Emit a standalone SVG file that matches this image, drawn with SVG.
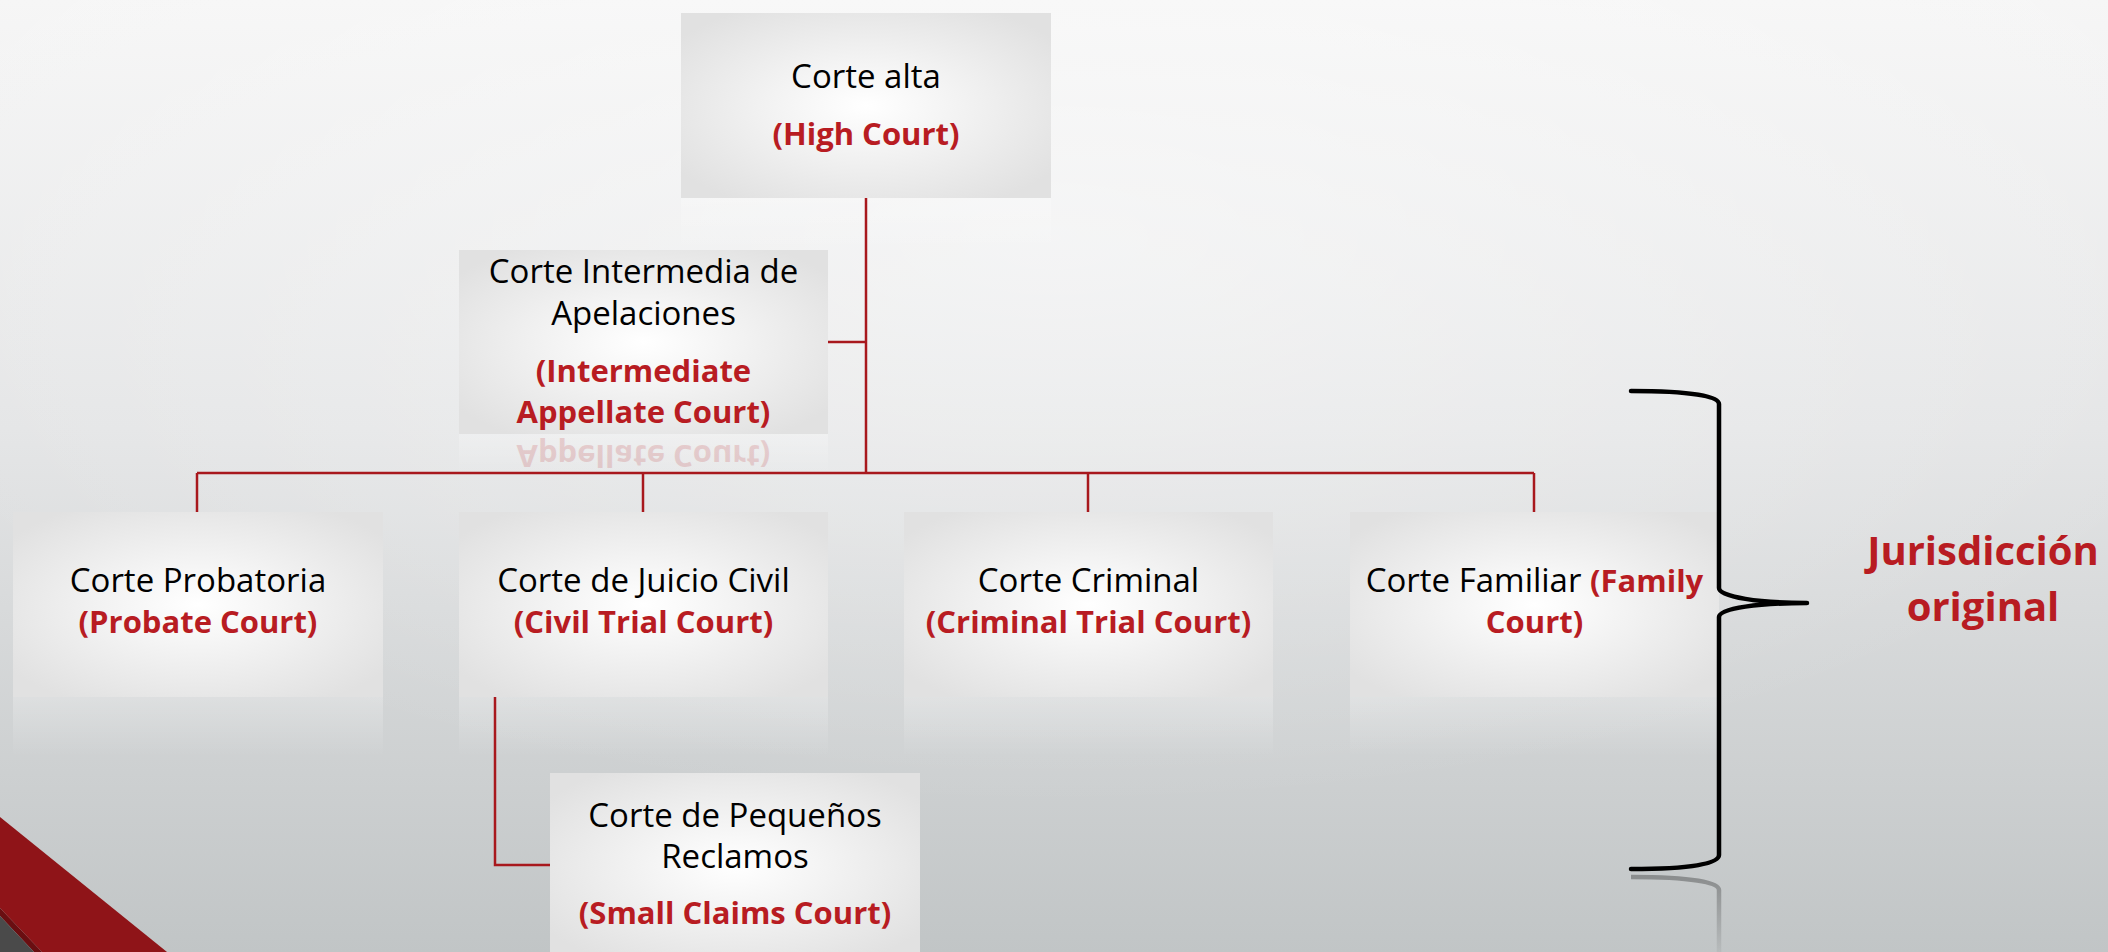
<svg xmlns="http://www.w3.org/2000/svg" width="2108" height="952" viewBox="0 0 2108 952">
<defs>
<linearGradient id="bg" x1="0" y1="0" x2="0" y2="1">
<stop offset="0" stop-color="#f6f6f6"/>
<stop offset="0.45" stop-color="#e4e5e6"/>
<stop offset="1" stop-color="#c1c5c6"/>
</linearGradient>
<radialGradient id="bgglow" cx="0.5" cy="0.25" r="0.6">
<stop offset="0" stop-color="#ffffff" stop-opacity="0.45"/>
<stop offset="1" stop-color="#ffffff" stop-opacity="0"/>
</radialGradient>
<radialGradient id="box" cx="0.5" cy="0.5" r="0.62">
<stop offset="0" stop-color="#ffffff"/>
<stop offset="1" stop-color="#e1e1e1"/>
</radialGradient>
<linearGradient id="refl" x1="0" y1="0" x2="0" y2="1">
<stop offset="0" stop-color="#ffffff" stop-opacity="0.25"/>
<stop offset="1" stop-color="#ffffff" stop-opacity="0"/>
</linearGradient>
<linearGradient id="brefl" x1="0" y1="0" x2="0" y2="1">
<stop offset="0" stop-color="#000000" stop-opacity="0.3"/>
<stop offset="1" stop-color="#000000" stop-opacity="0.05"/>
</linearGradient>
</defs>
<style>
.box{fill:url(#box);}
.refl{fill:url(#refl);}
.t{font-family:"Open Sans","Liberation Sans",sans-serif;font-size:33px;fill:#000;text-anchor:middle;}
.r{font-family:"Open Sans","Liberation Sans",sans-serif;font-weight:bold;font-size:31px;fill:#b81c22;text-anchor:middle;}
.rs{fill:#b81c22;font-weight:bold;font-size:31px;}
.conn{fill:none;stroke:#a8181d;stroke-width:2.5;}
.brace{fill:none;stroke:#000;stroke-width:4.5;stroke-linecap:round;stroke-linejoin:round;}
.big{font-family:"Open Sans","Liberation Sans",sans-serif;font-weight:bold;font-size:40px;fill:#b81c22;text-anchor:middle;}
</style>
<rect x="0" y="0" width="2108" height="952" fill="url(#bg)"/>
<rect x="0" y="0" width="2108" height="952" fill="url(#bgglow)"/>

<!-- bottom-left corner decoration -->
<polygon points="0,817 167,952 42,952 0,908" fill="#8f1418"/>
<polygon points="0,908 42,952 34,952 0,916" fill="#6a0e11"/>
<polygon points="0,916 34,952 0,952" fill="#4a4a4a"/>

<!-- reflections -->
<rect class="refl" x="681" y="198" width="370" height="55"/>
<rect class="refl" x="459" y="434" width="369" height="40"/>
<rect class="refl" x="13" y="697" width="370" height="60"/>
<rect class="refl" x="459" y="697" width="369" height="60"/>
<rect class="refl" x="904" y="697" width="369" height="60"/>
<rect class="refl" x="1350" y="697" width="369" height="60"/>
<g opacity="0.16">
<text class="r" x="643.5" y="-445" font-size="32" transform="scale(1,-1)">Appellate Court)</text>
</g>

<g id="connectors">
<path class="conn" d="M866,198 V473"/>
<path class="conn" d="M828,342 H866"/>
<path class="conn" d="M197,473 H1534"/>
<path class="conn" d="M197,473 V512"/>
<path class="conn" d="M643,473 V512"/>
<path class="conn" d="M1088,473 V512"/>
<path class="conn" d="M1534,473 V512"/>
<path class="conn" d="M495,697 V865 H550"/>
</g>

<g id="high">
<rect class="box" x="681" y="13" width="370" height="185"/>
<text class="t" x="866" y="88">Corte alta</text>
<text class="r" x="866" y="145" font-size="33">(High Court)</text>
</g>

<g id="intermediate">
<rect class="box" x="459" y="250" width="369" height="184"/>
<text class="t" x="643.5" y="283">Corte Intermedia de</text>
<text class="t" x="643.5" y="325">Apelaciones</text>
<text class="r" x="643.5" y="382" font-size="32">(Intermediate</text>
<text class="r" x="643.5" y="423" font-size="32">Appellate Court)</text>
</g>

<g id="probate">
<rect class="box" x="13" y="512" width="370" height="185"/>
<text class="t" x="198" y="592">Corte Probatoria</text>
<text class="r" x="198" y="633">(Probate Court)</text>
</g>

<g id="civil">
<rect class="box" x="459" y="512" width="369" height="185"/>
<text class="t" x="643.5" y="592">Corte de Juicio Civil</text>
<text class="r" x="643.5" y="633">(Civil Trial Court)</text>
</g>

<g id="criminal">
<rect class="box" x="904" y="512" width="369" height="185"/>
<text class="t" x="1088.5" y="592">Corte Criminal</text>
<text class="r" x="1088.5" y="633">(Criminal Trial Court)</text>
</g>

<g id="family">
<rect class="box" x="1350" y="512" width="369" height="185"/>
<text class="t" x="1534.5" y="592">Corte Familiar <tspan class="rs">(Family</tspan></text>
<text class="r" x="1534.5" y="633">Court)</text>
</g>

<g id="smallclaims">
<rect class="box" x="550" y="773" width="370" height="185"/>
<text class="t" x="735" y="827">Corte de Pequeños</text>
<text class="t" x="735" y="868">Reclamos</text>
<text class="r" x="735" y="924" font-size="32">(Small Claims Court)</text>
</g>

<g id="brace">
<path class="brace" d="M1631,391 C1690,391 1719,396 1719,404 L1719,588 C1719,597 1760,603 1807,603 C1760,603 1719,608 1719,617 L1719,855 C1719,864 1690,869 1631,869"/>
<path d="M1631,877 C1690,877 1719,882 1719,890 L1719,952" fill="none" stroke="url(#brefl)" stroke-width="4.5"/>
</g>

<g id="label">
<text class="big" x="1983" y="565">Jurisdicción</text>
<text class="big" x="1983" y="621">original</text>
</g>
</svg>
